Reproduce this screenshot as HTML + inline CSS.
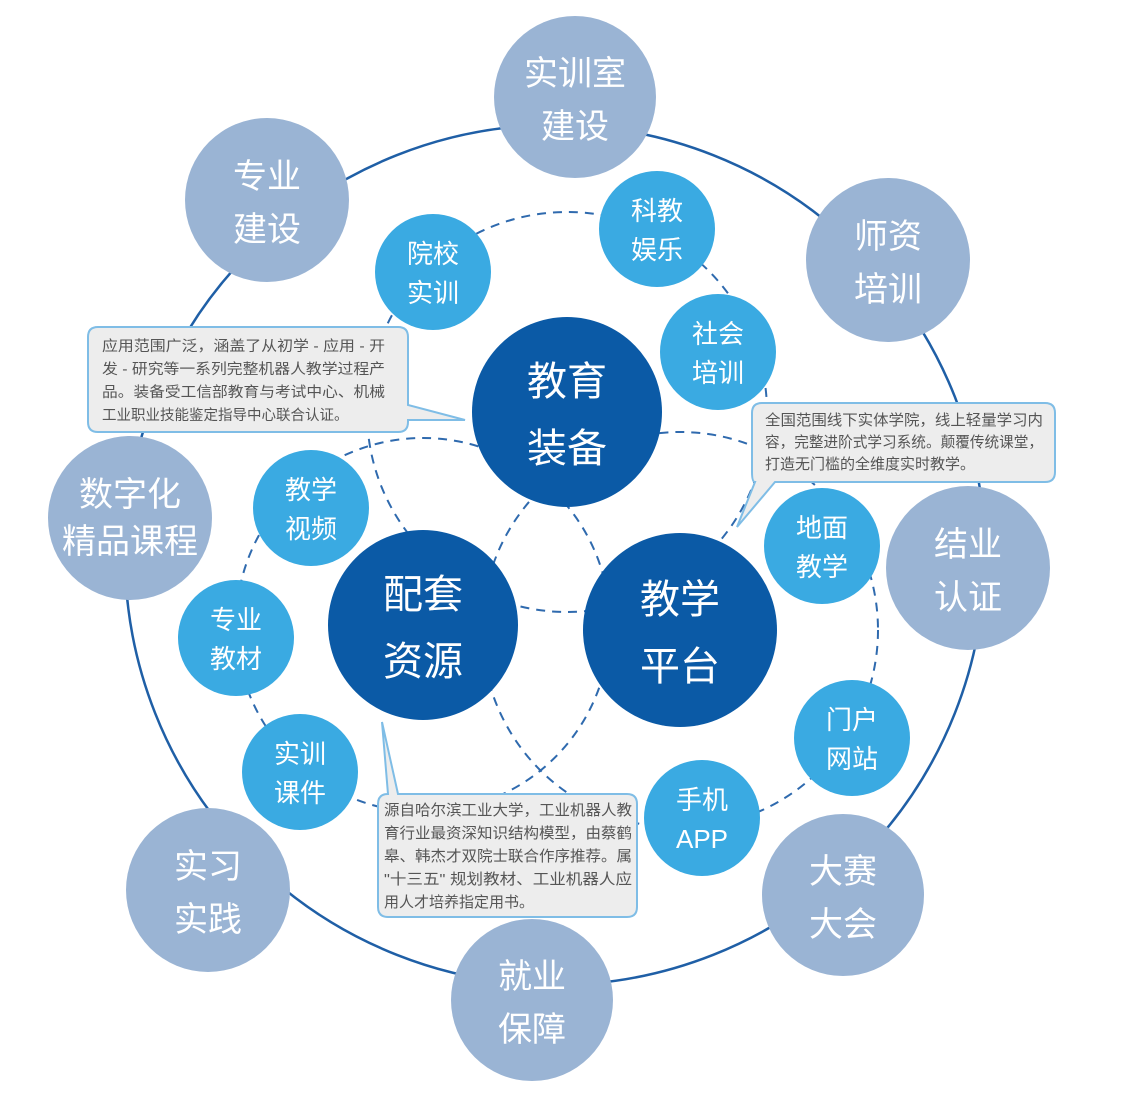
<!DOCTYPE html>
<html><head><meta charset="utf-8"><style>
html,body{margin:0;padding:0;background:#fff}
svg text{font-family:"Liberation Sans","Noto Sans CJK SC",sans-serif}
</style></head><body>
<svg width="1140" height="1093" viewBox="0 0 1140 1093" xmlns="http://www.w3.org/2000/svg">
<circle cx="555" cy="555" r="430" fill="none" stroke="#1f5fa6" stroke-width="2.5"/>
<g fill="none" stroke="#2f6aae" stroke-width="2" stroke-dasharray="9,7">
<circle cx="567" cy="412" r="200"/>
<circle cx="423" cy="625" r="187"/>
<circle cx="680" cy="630" r="198"/>
</g>
<g fill="#9ab4d4">
<circle cx="575" cy="97" r="81"/>
<circle cx="267" cy="200" r="82"/>
<circle cx="888" cy="260" r="82"/>
<circle cx="130" cy="518" r="82"/>
<circle cx="968" cy="568" r="82"/>
<circle cx="208" cy="890" r="82"/>
<circle cx="532" cy="1000" r="81"/>
<circle cx="843" cy="895" r="81"/>
</g>
<g fill="#0b5aa6">
<circle cx="567" cy="412" r="95"/>
<circle cx="423" cy="625" r="95"/>
<circle cx="680" cy="630" r="97"/>
</g>
<g fill="#3aaae2">
<circle cx="433" cy="272" r="58"/>
<circle cx="657" cy="229" r="58"/>
<circle cx="718" cy="352" r="58"/>
<circle cx="311" cy="508" r="58"/>
<circle cx="236" cy="638" r="58"/>
<circle cx="300" cy="772" r="58"/>
<circle cx="822" cy="546" r="58"/>
<circle cx="852" cy="738" r="58"/>
<circle cx="702" cy="818" r="58"/>
</g>
<g fill="#fff" font-size="34" text-anchor="middle">
<text x="575" y="85">实训室</text><text x="575" y="138">建设</text>
<text x="267" y="188">专业</text><text x="267" y="241">建设</text>
<text x="888" y="248">师资</text><text x="888" y="301">培训</text>
<text x="130" y="506">数字化</text><text x="130" y="553">精品课程</text>
<text x="968" y="556">结业</text><text x="968" y="609">认证</text>
<text x="208" y="878">实习</text><text x="208" y="931">实践</text>
<text x="532" y="988">就业</text><text x="532" y="1041">保障</text>
<text x="843" y="883">大赛</text><text x="843" y="936">大会</text>
</g>
<g fill="#fff" font-size="40" text-anchor="middle">
<text x="567" y="395">教育</text><text x="567" y="462">装备</text>
<text x="423" y="608">配套</text><text x="423" y="675">资源</text>
<text x="680" y="613">教学</text><text x="680" y="680">平台</text>
</g>
<g fill="#fff" font-size="26" text-anchor="middle">
<text x="433" y="263">院校</text><text x="433" y="302">实训</text>
<text x="657" y="220">科教</text><text x="657" y="259">娱乐</text>
<text x="718" y="343">社会</text><text x="718" y="382">培训</text>
<text x="311" y="499">教学</text><text x="311" y="538">视频</text>
<text x="236" y="629">专业</text><text x="236" y="668">教材</text>
<text x="300" y="763">实训</text><text x="300" y="802">课件</text>
<text x="822" y="537">地面</text><text x="822" y="576">教学</text>
<text x="852" y="729">门户</text><text x="852" y="768">网站</text>
<text x="702" y="809">手机</text><text x="702" y="848">APP</text>
</g>
<g fill="#ededed" stroke="#7fbde6" stroke-width="2">
<path d="M98,327 H398 Q408,327 408,337 V405 L465,420 L408,420 V422 Q408,432 398,432 H98 Q88,432 88,422 V337 Q88,327 98,327 Z"/>
<path d="M762,403 H1045 Q1055,403 1055,413 V472 Q1055,482 1045,482 H775 L737,527 L755,482 Q752,482 752,472 V413 Q752,403 762,403 Z"/>
<path d="M388,794 L382,722 L398,794 H627 Q637,794 637,804 V907 Q637,917 627,917 H388 Q378,917 378,907 V804 Q378,794 388,794 Z"/>
</g>
<g fill="#555" font-size="14.5">
<text x="102" y="351" textLength="283" lengthAdjust="spacingAndGlyphs">应用范围广泛，涵盖了从初学 - 应用 - 开</text>
<text x="102" y="374" textLength="283" lengthAdjust="spacingAndGlyphs">发 - 研究等一系列完整机器人教学过程产</text>
<text x="102" y="397" textLength="283" lengthAdjust="spacingAndGlyphs">品。装备受工信部教育与考试中心、机械</text>
<text x="102" y="420">工业职业技能鉴定指导中心联合认证。</text>
</g>
<g fill="#555" font-size="15">
<text x="765" y="425" textLength="278" lengthAdjust="spacingAndGlyphs">全国范围线下实体学院，线上轻量学习内</text>
<text x="765" y="447" textLength="278" lengthAdjust="spacingAndGlyphs">容，完整进阶式学习系统。颠覆传统课堂，</text>
<text x="765" y="469">打造无门槛的全维度实时教学。</text>
<text x="384" y="815" textLength="248" lengthAdjust="spacingAndGlyphs">源自哈尔滨工业大学，工业机器人教</text>
<text x="384" y="838" textLength="248" lengthAdjust="spacingAndGlyphs">育行业最资深知识结构模型，由蔡鹤</text>
<text x="384" y="861" textLength="248" lengthAdjust="spacingAndGlyphs">皋、韩杰才双院士联合作序推荐。属</text>
<text x="384" y="884" textLength="248" lengthAdjust="spacingAndGlyphs">"十三五" 规划教材、工业机器人应</text>
<text x="384" y="907">用人才培养指定用书。</text>
</g>
</svg>
</body></html>
